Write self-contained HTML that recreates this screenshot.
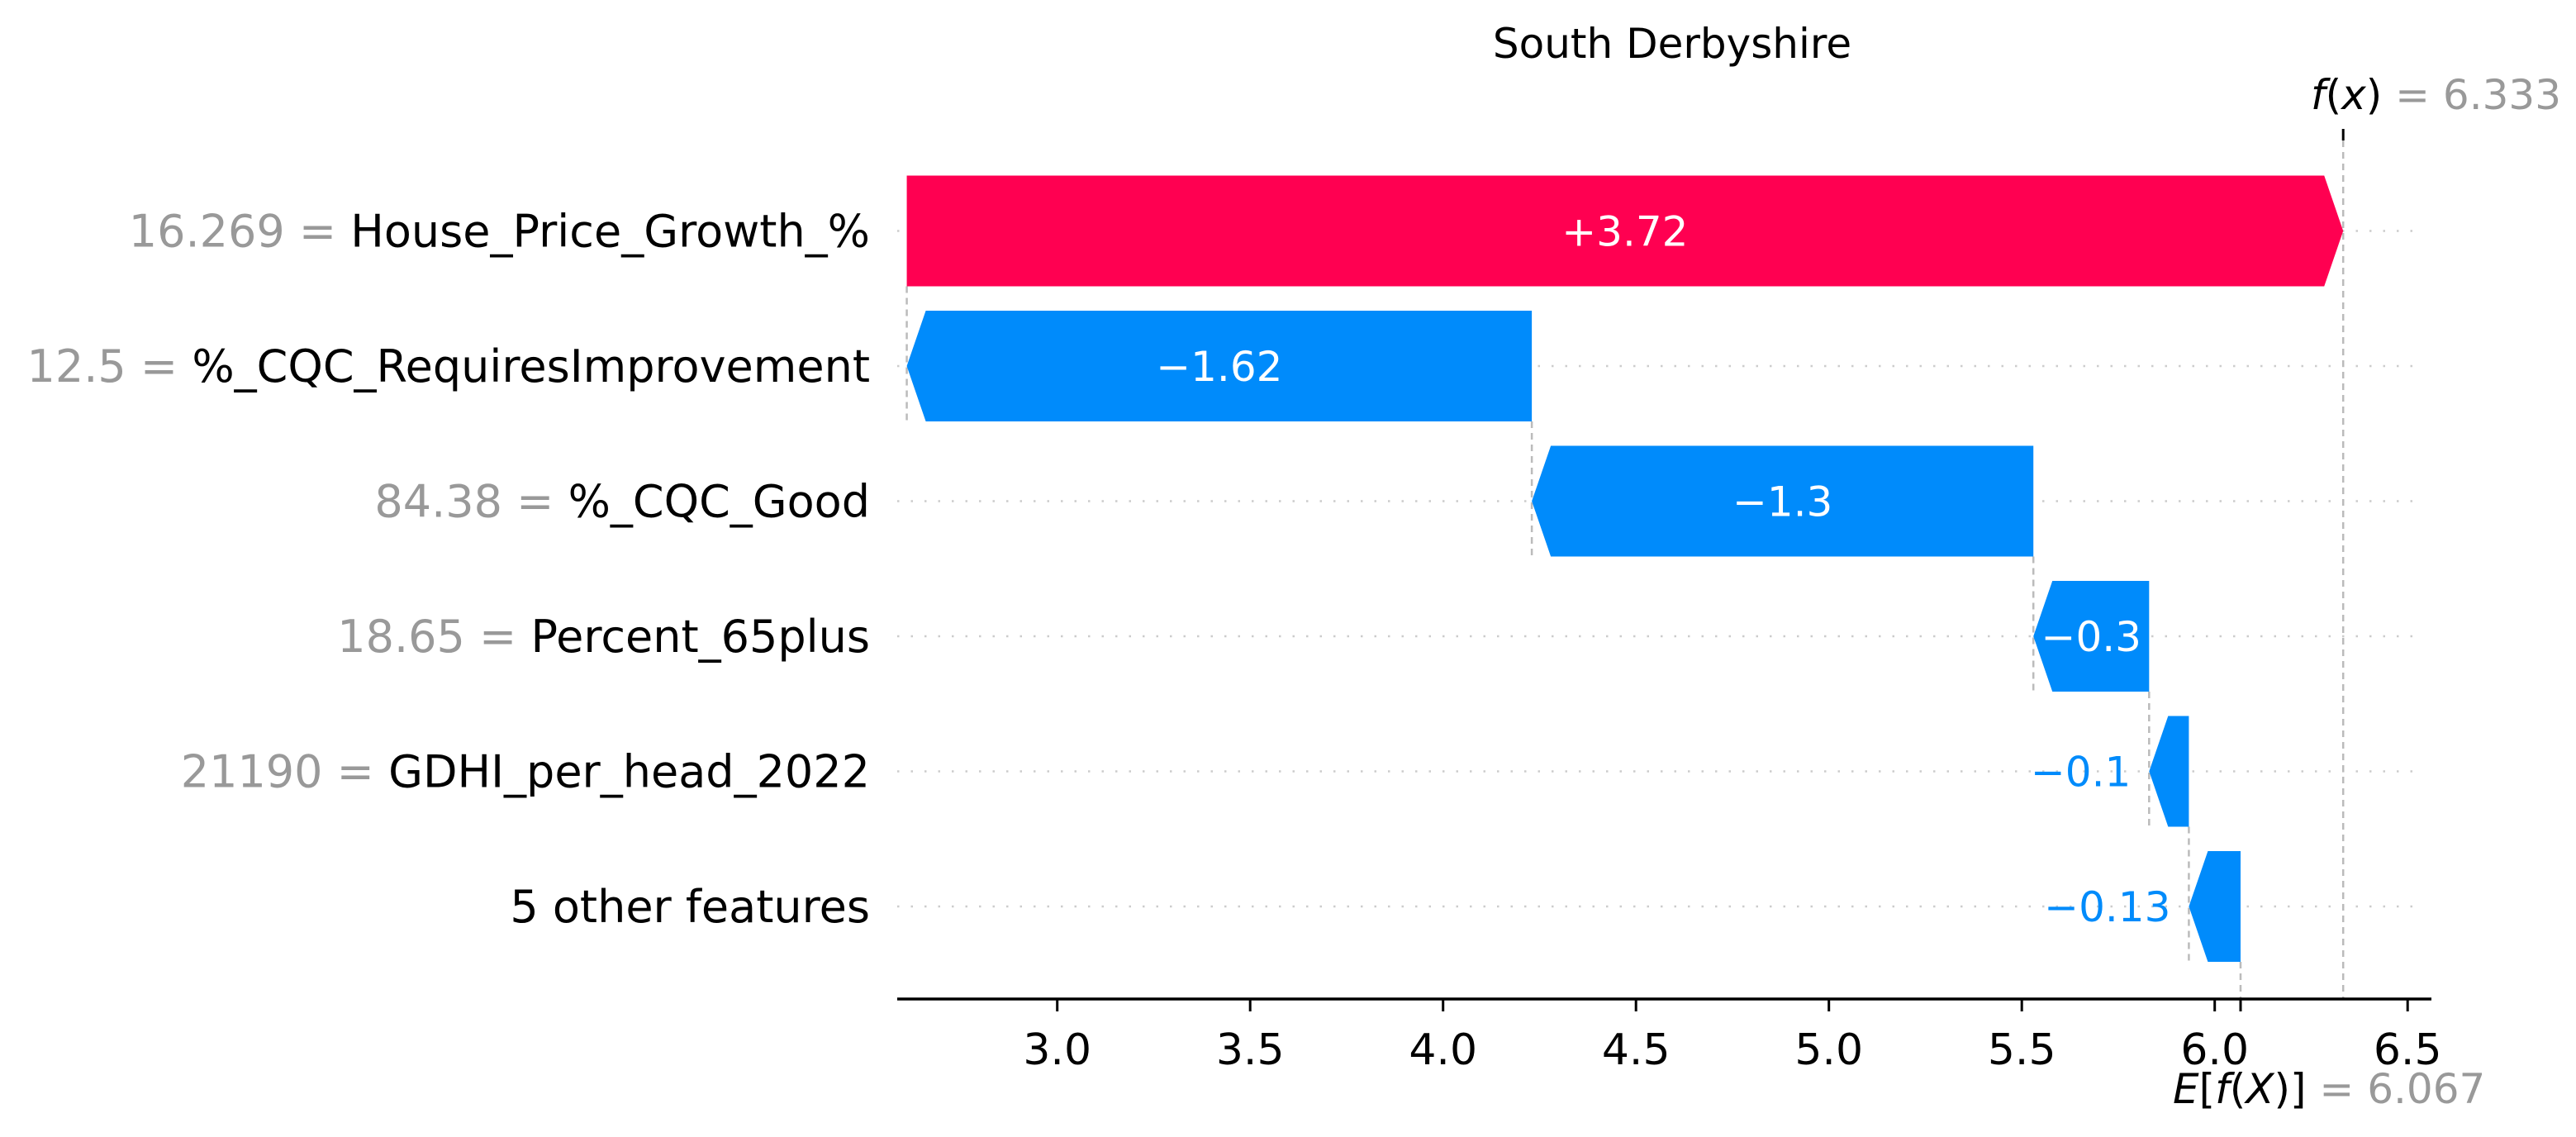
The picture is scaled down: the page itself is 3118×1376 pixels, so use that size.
<!DOCTYPE html>
<html><head><meta charset="utf-8"><style>
html,body{margin:0;padding:0;background:#fff;}
svg{display:block;font-family:"DejaVu Sans","Liberation Sans",sans-serif;}
</style></head><body>
<svg id="chart" width="3118" height="1376" viewBox="0 0 3118 1376" xmlns="http://www.w3.org/2000/svg">
<text x="2024" y="70" font-size="50" text-anchor="middle" fill="#000">South Derbyshire</text>
<g id="grid"></g><g id="links"></g><g id="bars"></g><g id="labels"></g><g id="axis"></g>
</svg>
<script>
const featureValues = ["16.269", "12.5", "84.38", "18.65", "21190", ""];
const featureNames = ["House_Price_Growth_%", "%_CQC_RequiresImprovement", "%_CQC_Good", "Percent_65plus", "GDHI_per_head_2022", "5 other features"];
const shapValues = [3.723, -1.62, -1.30, -0.30, -0.103, -0.134];
const valueLabels = ["+3.72", "\u22121.62", "\u22121.3", "\u22120.3", "\u22120.1", "\u22120.13"];
const baseValue = 6.067;
const fxValue = 6.333;
const xTicks = [3.0, 3.5, 4.0, 4.5, 5.0, 5.5, 6.0, 6.5];
const xTickLabels = ["3.0", "3.5", "4.0", "4.5", "5.0", "5.5", "6.0", "6.5"];

const NS = "http://www.w3.org/2000/svg";
const X0 = 1279.7, PX = 467;
function xs(v){ return X0 + (v - 3) * PX; }
const ROW0 = 279.5, ROWH = 163.5, HALF = 67, HEAD = 23;
function ys(i){ return ROW0 + i * ROWH; }
const AXY = 1209, AXL = 1086, AXR = 2943;
function mk(tag, attrs, parent){ const e = document.createElementNS(NS, tag); for (const k in attrs) e.setAttribute(k, attrs[k]); parent.appendChild(e); return e; }
const grid = document.getElementById('grid'), links = document.getElementById('links'), bars = document.getElementById('bars'), labels = document.getElementById('labels'), axis = document.getElementById('axis');

const n = shapValues.length;
const ends = new Array(n), starts = new Array(n);
let cur = baseValue;
for (let i = n - 1; i >= 0; i--) { starts[i] = cur; cur += shapValues[i]; ends[i] = cur; }

for (let i = 0; i < n; i++) {
  const y = ys(i);
  const g = mk('line', {x1: AXL, x2: 2933, y1: y, y2: y, stroke: '#cccccc', 'stroke-width': 2.5, 'stroke-dasharray': '2.5 14'}, grid);
  
  
}
// connector lines: at start of row i-1 (= end of row i) from row i-1 bottom to row i bottom
for (let i = 1; i < n; i++) {
  const v = starts[i - 1];
  const l = mk('line', {x1: xs(v), x2: xs(v), y1: ys(i - 1) + HALF, y2: ys(i) + HALF, stroke: '#bbbbbb', 'stroke-width': 2.5, 'stroke-dasharray': '8 6'}, links);
  
  
}
let bl = mk('line', {x1: xs(baseValue), x2: xs(baseValue), y1: ys(n - 1) + HALF, y2: AXY, stroke: '#bbbbbb', 'stroke-width': 2.5, 'stroke-dasharray': '8 6'}, links);


let fx = mk('line', {x1: xs(fxValue), x2: xs(fxValue), y1: 170, y2: AXY, stroke: '#bbbbbb', 'stroke-width': 2.5, 'stroke-dasharray': '8 6'}, links);


let fxt = mk('line', {x1: xs(fxValue), x2: xs(fxValue), y1: 156, y2: 170, stroke: '#000', 'stroke-width': 3}, links);



for (let i = 0; i < n; i++) {
  const y = ys(i), a = xs(starts[i]), b = xs(ends[i]);
  const pos = shapValues[i] > 0;
  const w = Math.abs(b - a);
  const h = Math.min(HEAD, w);
  let pts;
  if (pos) pts = [[a, y - HALF], [b - h, y - HALF], [b, y], [b - h, y + HALF], [a, y + HALF]];
  else pts = [[a, y - HALF], [b + h, y - HALF], [b, y], [b + h, y + HALF], [a, y + HALF]];
  const p = mk('polygon', {points: pts.map(q => q.join(',')).join(' '), fill: pos ? '#ff0051' : '#008bfb'}, bars);
  
  
  let t;
  if (w > 130) {
    t = mk('text', {x: (a + b) / 2, y: y + 18, 'font-size': 50, 'text-anchor': 'middle', fill: '#fff'}, bars);
  } else {
    t = mk('text', {x: Math.min(a, b) - 22, y: y + 18, 'font-size': 50, 'text-anchor': 'end', fill: pos ? '#ff0051' : '#008bfb'}, bars);
  }
  t.textContent = valueLabels[i];
  
  
  const ft = mk('text', {x: 1053, y: y + 19, 'font-size': 54, 'text-anchor': 'end'}, labels);
  
  
  if (featureValues[i] !== '') {
    const s1 = mk('tspan', {fill: '#999999'}, ft); s1.textContent = featureValues[i] + ' = ';
  }
  const s2 = mk('tspan', {fill: '#000'}, ft); s2.textContent = featureNames[i];
}

let ax = mk('line', {x1: AXL, x2: AXR, y1: AXY, y2: AXY, stroke: '#000', 'stroke-width': 3.5}, axis);


for (let i = 0; i < xTicks.length; i++) {
  const x = xs(xTicks[i]);
  const tk = mk('line', {x1: x, x2: x, y1: AXY, y2: AXY + 15, stroke: '#000', 'stroke-width': 3}, axis);
  
  
  const tl = mk('text', {x: x, y: AXY + 79, 'font-size': 52, 'text-anchor': 'middle', fill: '#000'}, axis);
  tl.textContent = xTickLabels[i];
  
  
}
let et = mk('line', {x1: xs(baseValue), x2: xs(baseValue), y1: AXY, y2: AXY + 15, stroke: '#000', 'stroke-width': 3}, axis);



const ef = mk('text', {x: 2630, y: 1335, 'font-size': 50}, axis);


let e1 = mk('tspan', {fill: '#000', 'font-style': 'italic'}, ef); e1.textContent = 'E';
let e2 = mk('tspan', {fill: '#000'}, ef); e2.textContent = '[';
let e3 = mk('tspan', {fill: '#000', 'font-style': 'italic'}, ef); e3.textContent = 'f';
let e4 = mk('tspan', {fill: '#000'}, ef); e4.textContent = '(';
let e5 = mk('tspan', {fill: '#000', 'font-style': 'italic'}, ef); e5.textContent = 'X';
let e6 = mk('tspan', {fill: '#000'}, ef); e6.textContent = ')]';
let e7 = mk('tspan', {fill: '#999999'}, ef); e7.textContent = ' = ' + baseValue.toFixed(3);

const ff = mk('text', {x: 2797, y: 132, 'font-size': 50}, axis);


let f1 = mk('tspan', {fill: '#000', 'font-style': 'italic'}, ff); f1.textContent = 'f';
let f2 = mk('tspan', {fill: '#000'}, ff); f2.textContent = '(';
let f3 = mk('tspan', {fill: '#000', 'font-style': 'italic'}, ff); f3.textContent = 'x';
let f4 = mk('tspan', {fill: '#000'}, ff); f4.textContent = ')';
let f5 = mk('tspan', {fill: '#999999'}, ff); f5.textContent = ' = ' + fxValue.toFixed(3);
</script>
</body></html>
